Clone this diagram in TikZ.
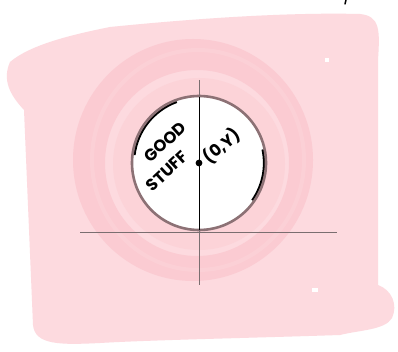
\documentclass[tikz,border=0pt]{standalone}
\usepackage{fontspec}
\setmainfont{Poppins}
\begin{document}
\begin{tikzpicture}[x=1pt,y=-1pt,
  blob/.style={fill=pinkbg,draw=none},
  axis/.style={draw=axisgray,line width=1pt},
  hand/.style={font=\fontsize{16.5}{16}\selectfont\bfseries,text=black,inner sep=0pt}]
\definecolor{pinkbg}{HTML}{FDDADF}
\definecolor{pinkring}{HTML}{FBCBD2}
\definecolor{pinkmid}{HTML}{FCD3D8}
\definecolor{rimcol}{HTML}{8C7175}
\definecolor{axisgray}{HTML}{7A6E70}
\useasboundingbox (0,0) rectangle (398,352);
\fill[white] (0,0) rectangle (398,352);
% background blob
\path[blob] (10,62) .. controls (30,45) and (70,35) .. (110,27)
  .. controls (180,20) and (280,12) .. (360,14)
  .. controls (380,16) and (380,30) .. (378,60)
  -- (378,285) .. controls (392,290) and (398,305) .. (392,318)
  .. controls (385,330) and (360,330) .. (340,335)
  .. controls (250,338) and (150,340) .. (100,343)
  .. controls (60,345) and (35,345) .. (33,325)
  -- (24,110) .. controls (10,95) and (2,80) .. (10,62) -- cycle;
\fill[white] (325,58) rectangle (329,62);
\fill[white] (312,288) rectangle (318,292);
% rings
\fill[pinkring,even odd rule] (193,160) ellipse [x radius=120,y radius=121]
  (197,163) ellipse [x radius=92,y radius=93];
\draw[pinkmid,line width=4pt,opacity=0.7] (198,160) ellipse [x radius=106,y radius=110];
\fill[pinkmid] (199,164) circle (86);
% circle
\coordinate (c) at (199,163);
\fill[white] (c) circle (67);
\draw[black,line width=2.2pt] (c) ++(187:65) arc[start angle=187,end angle=250,radius=65];
\draw[black,line width=2.2pt] (c) ++(-12:65) arc[start angle=-12,end angle=35,radius=65];
\draw[rimcol,line width=2.6pt] (c) circle (67);
% axes
\coordinate (vt) at (199,80);
\coordinate (vb) at (199,285);
\coordinate (hl) at (80,233);
\coordinate (hr) at (337,233);
\draw[axis] (vt) -- (vb);
\draw[black,line width=1pt] (199,97) -- (199,230);
\draw[axis] (hl) -- (hr);
\fill[black] (c) circle (3.4);
% labels
\node[hand,rotate=42] (good) at (165,142) {GOOD};
\node[hand,rotate=43] (stuff) at (167,171) {STUFF};
\node[hand,rotate=40] (pt) at (222,146) {(0,Y)};
\draw[black,line width=1.5pt,line cap=round] (346,0) -- (345,4);
\end{tikzpicture}
\end{document}
